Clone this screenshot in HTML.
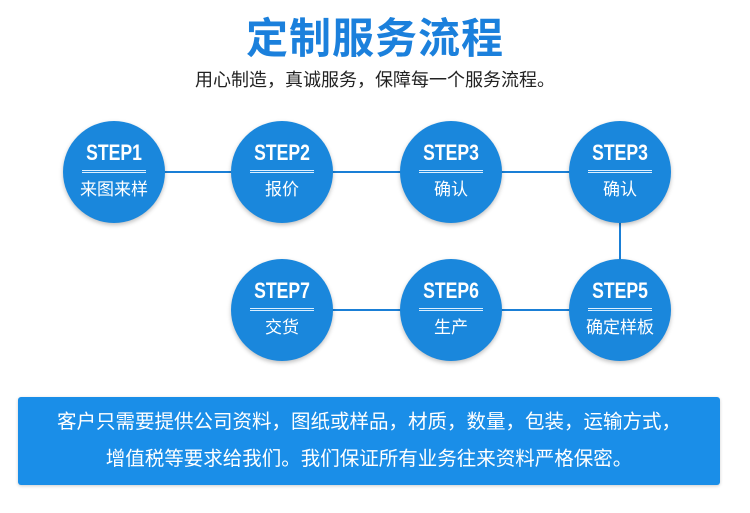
<!DOCTYPE html>
<html><head><meta charset="utf-8"><style>
body{margin:0;width:750px;height:513px;background:#fff;position:relative;overflow:hidden;font-family:"Liberation Sans","Noto Sans CJK SC",sans-serif}
.t{position:absolute;left:0;width:750px;text-align:center;top:14px;font-size:42px;font-weight:bold;color:#1b80dc;line-height:50px;letter-spacing:1px}
.s{position:absolute;left:0;width:750px;text-align:center;top:68px;font-size:18px;color:#222;line-height:24px}
.c{position:absolute;width:102px;height:102px;border-radius:50%;background:#1a87dc;color:#fff;text-align:center;box-shadow:0 2px 4px rgba(0,0,0,.25)}
.c b{display:block;margin-top:20px;font-size:22px;font-family:"Liberation Sans Narrow","Liberation Sans",sans-serif;transform:scaleX(.8);line-height:24px;font-weight:900}
.c i{display:block;width:64px;margin:5px auto 0;height:1px;border-top:1px solid #dcefff;border-bottom:1px solid #dcefff}
.c span{display:block;margin-top:6px;font-size:17px;line-height:22px}
.l{position:absolute;background:#1a7fd6}
.box{position:absolute;left:18px;top:397px;width:702px;height:88px;background:#1a8ee8;border-radius:3px;color:#fff;text-align:center;font-size:19.5px;line-height:37px;padding-top:7px;box-sizing:border-box;box-shadow:0 1px 3px rgba(0,0,0,.2)}
</style></head><body>
<div class="t">定制服务流程</div>
<div class="s">用心制造，真诚服务，保障每一个服务流程。</div>
<div class="l" style="left:114px;top:171px;width:506px;height:2px"></div>
<div class="l" style="left:619px;top:172px;width:2px;height:138px"></div>
<div class="l" style="left:282px;top:309px;width:338px;height:2px"></div>
<div class="c" style="left:63px;top:121px"><b>STEP1</b><i></i><span>来图来样</span></div>
<div class="c" style="left:231px;top:121px"><b>STEP2</b><i></i><span>报价</span></div>
<div class="c" style="left:400px;top:121px"><b>STEP3</b><i></i><span>确认</span></div>
<div class="c" style="left:569px;top:121px"><b>STEP3</b><i></i><span>确认</span></div>
<div class="c" style="left:231px;top:259px"><b>STEP7</b><i></i><span>交货</span></div>
<div class="c" style="left:400px;top:259px"><b>STEP6</b><i></i><span>生产</span></div>
<div class="c" style="left:569px;top:259px"><b>STEP5</b><i></i><span>确定样板</span></div>
<div class="box">客户只需要提供公司资料，图纸或样品，材质，数量，包装，运输方式，<br>增值税等要求给我们。我们保证所有业务往来资料严格保密。</div>
</body></html>
